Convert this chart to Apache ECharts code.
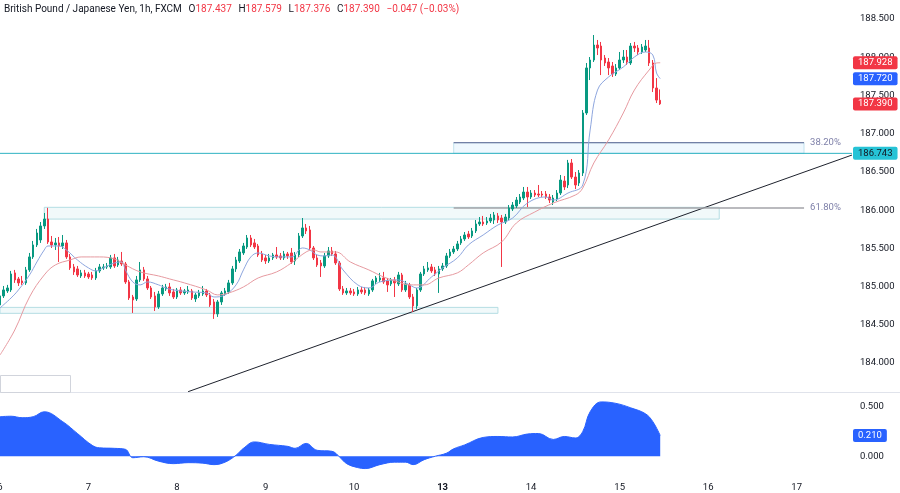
<!DOCTYPE html>
<html><head><meta charset="utf-8">
<script src="https://cdn.jsdelivr.net/npm/echarts@6/dist/echarts.min.js"></script>
<style>html,body{margin:0;padding:0;background:#fff}#c{width:900px;height:493px}</style>
</head><body><div id="c"></div>
<script>
// ---------- DATA ----------
const dayLabels = ['6','7','8','9','10','13','14','15','16','17'];
const slotCount = 232;
const opens = [184.760,184.878,184.943,184.956,185.179,185.100,185.074,185.048,185.218,185.388,185.545,185.610,185.793,185.884,185.584,185.545,185.571,185.531,185.571,185.388,185.257,185.231,185.139,185.179,
185.165,185.152,185.113,185.205,185.244,185.257,185.257,185.375,185.283,185.335,185.296,185.061,184.864,184.838,185.087,185.218,185.100,184.982,184.878,184.734,184.904,184.969,184.995,184.930,
184.864,184.956,184.917,184.930,184.943,184.838,184.878,184.904,184.943,184.891,184.799,184.642,184.799,184.904,184.930,185.048,185.231,185.335,185.440,185.518,185.636,185.571,185.531,185.427,
185.375,185.335,185.375,185.414,185.401,185.375,185.427,185.440,185.335,185.414,185.662,185.767,185.741,185.505,185.375,185.309,185.270,185.401,185.466,185.427,185.309,184.969,184.917,184.943,
184.930,184.904,184.956,184.956,184.904,184.956,185.061,185.087,185.113,185.074,185.035,185.087,185.035,185.152,184.956,185.022,184.864,184.747,184.956,185.165,185.218,185.257,185.218,185.165,
185.231,185.270,185.401,185.453,185.492,185.571,185.623,185.688,185.662,185.728,185.819,185.845,185.832,185.858,185.871,185.924,185.897,185.845,185.897,186.015,186.054,186.106,186.159,186.237,
186.172,186.224,186.211,186.211,186.211,186.172,186.106,186.146,186.224,186.381,186.329,186.617,186.433,186.355,186.486,187.271,187.860,187.964,188.160,188.147,187.990,187.938,187.886,187.781,
187.860,187.964,188.003,187.925,188.147,188.121,188.069,188.095,188.121,187.925,187.598,187.437];
const closes = [184.878,184.956,184.982,185.165,185.087,185.048,185.048,185.218,185.388,185.545,185.701,185.793,185.884,185.584,185.545,185.571,185.531,185.571,185.388,185.244,185.192,185.152,185.179,185.139,
185.126,185.113,185.205,185.257,185.257,185.270,185.375,185.270,185.348,185.296,185.061,184.851,184.825,185.087,185.218,185.100,184.982,184.864,184.734,184.904,184.982,184.995,184.917,184.864,
184.956,184.917,184.943,184.956,184.851,184.891,184.917,184.943,184.891,184.760,184.642,184.799,184.917,184.943,185.048,185.231,185.348,185.453,185.531,185.636,185.545,185.518,185.414,185.348,
185.335,185.375,185.414,185.388,185.375,185.427,185.401,185.322,185.414,185.662,185.767,185.728,185.505,185.375,185.283,185.270,185.401,185.466,185.427,185.309,184.969,184.917,184.943,184.917,
184.904,184.956,184.930,184.917,184.956,185.074,185.113,185.113,185.061,185.022,185.087,185.048,185.152,184.956,185.035,184.864,184.747,184.956,185.165,185.231,185.244,185.205,185.165,185.231,
185.270,185.401,185.453,185.492,185.558,185.623,185.675,185.649,185.728,185.819,185.845,185.819,185.858,185.897,185.937,185.871,185.845,185.910,186.028,186.067,186.132,186.172,186.237,186.172,
186.224,186.198,186.198,186.198,186.172,186.132,186.159,186.224,186.394,186.303,186.617,186.433,186.329,186.486,187.271,187.860,187.964,188.160,188.121,187.964,187.925,187.860,187.781,187.860,
187.964,188.003,187.938,188.147,188.121,188.069,188.134,188.147,187.925,187.598,187.440,187.390];
const lows = [184.721,184.851,184.917,184.930,185.048,185.008,185.022,185.022,185.192,185.362,185.518,185.571,185.754,185.558,185.505,185.479,185.322,185.492,185.362,185.218,185.152,185.126,185.113,185.113,
185.100,185.087,185.087,185.179,185.218,185.231,185.231,185.244,185.257,185.270,185.035,184.825,184.655,184.812,185.061,185.074,184.956,184.838,184.681,184.708,184.878,184.943,184.878,184.838,
184.838,184.891,184.891,184.904,184.825,184.799,184.851,184.878,184.864,184.734,184.577,184.603,184.760,184.878,184.904,185.022,185.192,185.309,185.414,185.492,185.518,185.492,185.388,185.322,
185.296,185.309,185.348,185.362,185.348,185.348,185.362,185.296,185.283,185.388,185.636,185.688,185.479,185.348,185.257,185.126,185.244,185.375,185.401,185.283,184.943,184.891,184.891,184.891,
184.878,184.878,184.904,184.891,184.878,184.930,185.035,185.061,185.035,184.930,185.008,184.864,185.008,184.930,184.930,184.838,184.668,184.708,184.930,185.139,185.192,185.179,185.139,184.917,
185.205,185.244,185.375,185.427,185.466,185.545,185.597,185.623,185.636,185.701,185.793,185.793,185.806,185.832,185.819,185.832,185.257,185.819,185.871,185.989,186.028,186.080,186.132,186.041,
186.146,186.172,186.172,186.172,186.146,186.093,186.067,186.119,186.198,186.263,186.289,186.407,186.276,186.316,186.447,187.245,187.702,187.938,188.029,187.767,187.886,187.767,187.742,187.755,
187.833,187.925,187.899,187.899,188.069,188.029,188.043,188.069,187.886,187.545,187.401,187.376];
const highs = [184.917,185.008,185.022,185.205,185.218,185.126,185.139,185.257,185.440,185.597,185.754,185.845,185.963,186.030,185.662,185.636,185.649,185.675,185.610,185.427,185.296,185.270,185.218,185.218,
185.192,185.192,185.244,185.296,185.296,185.309,185.414,185.427,185.388,185.453,185.322,185.087,184.891,185.139,185.322,185.257,185.139,185.008,184.930,184.943,185.022,185.035,185.048,184.969,
184.982,184.995,184.969,185.008,184.969,184.917,184.956,185.008,184.969,184.917,184.838,184.825,184.943,184.982,185.087,185.270,185.388,185.492,185.571,185.675,185.675,185.623,185.558,185.466,
185.414,185.427,185.440,185.518,185.440,185.466,185.453,185.505,185.453,185.701,185.897,185.819,185.793,185.531,185.414,185.348,185.440,185.518,185.518,185.466,185.335,185.008,184.982,184.982,
184.969,184.995,184.995,184.995,184.982,185.100,185.139,185.179,185.192,185.113,185.113,185.126,185.192,185.179,185.074,185.048,184.904,184.982,185.192,185.270,185.322,185.296,185.257,185.270,
185.309,185.440,185.492,185.531,185.597,185.662,185.714,185.728,185.767,185.871,185.910,185.924,185.910,185.950,185.976,185.963,185.937,185.950,186.067,186.106,186.172,186.211,186.303,186.303,
186.263,186.263,186.329,186.250,186.250,186.211,186.198,186.263,186.460,186.447,186.657,186.669,186.499,186.525,187.310,187.925,188.003,188.291,188.226,188.200,188.029,187.990,187.938,187.911,
188.069,188.095,188.095,188.186,188.200,188.160,188.173,188.226,188.226,187.964,187.728,187.579];
// moving averages: [bar index, price]
const fastMA = [[0,184.721],[3,184.851],[5,184.956],[8,185.152],[10,185.322],[12,185.479],[13,185.531],[16,185.531],[18,185.479],[21,185.348],[24,185.244],[26,185.205],[28,185.244],[31,185.309],[33,185.322],[34,185.218],[36,185.061],[38,185.022],[40,185.061],[43,185.022],[45,184.982],[47,184.956],[52,184.930],[56,184.917],[58,184.864],[61,184.891],[64,185.022],[66,185.218],[68,185.388],[70,185.440],[73,185.401],[76,185.388],[79,185.388],[82,185.505],[84,185.479],[86,185.414],[88,185.401],[90,185.414],[93,185.218],[97,185.022],[100,184.982],[103,185.061],[108,185.087],[111,185.022],[113,184.982],[117,185.126],[120,185.244],[124,185.375],[127,185.545],[131,185.675],[135,185.806],[139,185.897],[143,186.093],[148,186.172],[150,186.132],[154,186.224],[158,186.329],[160,187.048],[162,187.571],[165,187.742],[169,187.873],[172,188.003],[175,188.069],[177,188.029],[178,187.794],[179,187.720]];
const slowMA = [[0,184.105],[4,184.432],[8,184.864],[12,185.152],[15,185.283],[19,185.348],[22,185.388],[27,185.388],[31,185.362],[34,185.283],[38,185.192],[43,185.139],[46,185.100],[50,185.048],[56,184.956],[59,184.891],[62,184.917],[66,184.995],[70,185.113],[75,185.192],[79,185.309],[83,185.453],[85,185.479],[87,185.453],[91,185.453],[95,185.322],[100,185.218],[104,185.126],[108,185.061],[111,185.022],[115,185.022],[119,185.113],[124,185.179],[127,185.283],[131,185.440],[136,185.584],[140,185.832],[145,185.976],[150,186.093],[156,186.198],[158,186.289],[161,186.617],[165,186.918],[169,187.271],[172,187.571],[176,187.833],[178,187.925],[179,187.928]];
const oscValues = [[0,0.40],[3,0.405],[6,0.39],[9,0.40],[12,0.45],[17,0.35],[21,0.23],[25,0.11],[27,0.085],[31,0.08],[34,0.07],[36,-0.015],[39,-0.005],[43,-0.05],[47,-0.075],[51,-0.065],[55,-0.07],[58,-0.085],[61,-0.06],[64,0.01],[66,0.08],[69,0.145],[73,0.12],[78,0.10],[80,0.08],[83,0.13],[86,0.06],[90,0.05],[92,-0.005],[94,-0.075],[97,-0.115],[99,-0.125],[103,-0.085],[107,-0.06],[110,-0.06],[112,-0.085],[115,-0.035],[118,0.0],[121,0.03],[123,0.075],[126,0.115],[131,0.19],[135,0.20],[139,0.195],[143,0.225],[146,0.23],[150,0.17],[153,0.20],[156,0.185],[158,0.25],[160,0.45],[163,0.55],[167,0.535],[171,0.49],[175,0.43],[177,0.35],[179,0.21]];
// drawings
const hLevel = 186.743;
const trendLine = [[51,183.625],[231,186.721]];
const fibLevels = [{pct:'38.20%', price:186.882}, {pct:'61.80%', price:186.027}];
const fibSpan = [123, 218];
const zoneTop = [12, 195, 186.037, 185.883];
const zoneBottom = [0, 135, 184.728, 184.650];
const headerText = {name:'British Pound / Japanese Yen, 1h, FXCM', o:'187.437', h:'187.579', l:'187.376', c:'187.390', chg:'\u22120.047 (\u22120.03%)'};

// ---------- BUILD ----------
const categories = [];
for (const d of dayLabels) for (let h = 0; h < 24; h++) if (categories.length < slotCount) categories.push(d + '|' + h);
const candles = opens.map((o, i) => [o, closes[i], lows[i], highs[i]]);
const FONT = 'Roboto, "Noto Sans", sans-serif';
const ink = '#131722';
const halfStep = v => Math.abs(v * 2 - Math.round(v * 2)) < 1e-6;
const lastSlot = categories.length - 1;

const drawLine = (pts, color, width, labelText) => ({
  type: 'line', xAxisIndex: 0, yAxisIndex: 0, data: pts, showSymbol: false, silent: true, z: 2,
  lineStyle: {color: color, width: width, type: 'solid'},
  endLabel: labelText ? {show: true, formatter: labelText, color: '#7d7fa8', fontSize: 9.5, fontFamily: FONT, distance: 6} : {show: false}
});

const chart = echarts.init(document.getElementById('c'), null, {renderer: 'canvas'});
const option = {
  animation: false,
  backgroundColor: '#ffffff',
  textStyle: {fontFamily: FONT},
  grid: [
    {left: 0, right: 48, top: 0, height: 392, containLabel: false, outerBoundsMode: 'none'},
    {left: 0, right: 48, top: 393, height: 83, containLabel: false, outerBoundsMode: 'none'}
  ],
  xAxis: [
    {type: 'category', gridIndex: 0, data: categories, boundaryGap: false,
     axisLine: {show: false}, axisTick: {show: false}, axisLabel: {show: false}, splitLine: {show: false}},
    {type: 'category', gridIndex: 1, data: categories, boundaryGap: false,
     axisLine: {show: false}, axisTick: {show: false}, splitLine: {show: false},
     axisLabel: {
       interval: (i, v) => v.split('|')[1] === '0',
       formatter: v => { const d = v.split('|')[0]; return d === '13' ? '{b|13}' : d; },
       color: ink, fontSize: 9.5, fontFamily: FONT, margin: 7,
       rich: {b: {fontWeight: 'bold', color: ink, fontSize: 9.5, fontFamily: FONT}}
     }}
  ],
  yAxis: [
    {type: 'value', gridIndex: 0, position: 'right', min: 183.621, max: 188.749, splitNumber: 10, scale: true,
     axisLine: {show: false}, axisTick: {show: false}, splitLine: {show: false},
     axisLabel: {formatter: v => halfStep(v) ? v.toFixed(3) : '', color: ink, fontSize: 9.5, fontFamily: FONT, margin: 8}},
    {type: 'value', gridIndex: 1, position: 'right', min: -0.2, max: 0.64, splitNumber: 2,
     axisLine: {show: false}, axisTick: {show: false}, splitLine: {show: false},
     axisLabel: {formatter: v => halfStep(v) ? v.toFixed(3) : '', color: ink, fontSize: 9.5, fontFamily: FONT, margin: 8}}
  ],
  series: [
    {
      type: 'candlestick', xAxisIndex: 0, yAxisIndex: 0, data: candles, barWidth: 2, z: 3,
      itemStyle: {color: '#089981', color0: '#f23645', borderColor: '#089981', borderColor0: '#f23645', borderWidth: 1},
      markArea: {
        silent: true,
        data: [
          [{coord: [zoneTop[0], zoneTop[2]], itemStyle: {color: 'rgba(178,223,230,0.18)', borderColor: '#b4dde3', borderWidth: 1}},
           {coord: [zoneTop[1], zoneTop[3]]}],
          [{coord: [zoneBottom[0], zoneBottom[2]], itemStyle: {color: 'rgba(178,223,230,0.18)', borderColor: '#b4dde3', borderWidth: 1}},
           {coord: [zoneBottom[1], zoneBottom[3]]}],
          [{coord: [fibSpan[0], fibLevels[0].price], itemStyle: {color: 'rgba(33,150,243,0.07)', borderColor: 'rgba(100,180,210,0.35)', borderWidth: 1}},
           {coord: [fibSpan[1], hLevel]}]
        ]
      }
    },
    drawLine([[0, hLevel], [lastSlot, hLevel]], '#2fb3c2', 1, null),
    drawLine(trendLine, '#1e222d', 1, null),
    drawLine([[fibSpan[0], fibLevels[0].price], [fibSpan[1], fibLevels[0].price]], '#58638f', 1, fibLevels[0].pct),
    drawLine([[fibSpan[0], fibLevels[1].price], [fibSpan[1], fibLevels[1].price]], '#a3a3a8', 1.5, fibLevels[1].pct),
    {type: 'line', xAxisIndex: 0, yAxisIndex: 0, data: fastMA, showSymbol: false, smooth: 0.4,
     lineStyle: {color: '#8ea6de', width: 1}, z: 4},
    {type: 'line', xAxisIndex: 0, yAxisIndex: 0, data: slowMA, showSymbol: false, smooth: 0.4,
     lineStyle: {color: '#e69aa0', width: 1}, z: 4},
    {type: 'line', xAxisIndex: 1, yAxisIndex: 1, data: oscValues, showSymbol: false, smooth: 0.4,
     lineStyle: {color: '#2962ff', width: 1}, areaStyle: {color: '#2962ff', opacity: 1}}
  ]
};
chart.setOption(option);

// price tags on the right axis, positioned through the axes
const tag = (v, axis, bg, fg) => ({
  type: 'text', z: 100, x: 853, y: chart.convertToPixel({yAxisIndex: axis}, v),
  style: {text: v.toFixed(3), fill: fg, backgroundColor: bg, padding: [2, 5, 1, 5], borderRadius: 2,
          font: '9.5px ' + FONT, verticalAlign: 'middle', align: 'left'}
});
const lastSlow = slowMA[slowMA.length - 1][1];
const lastFast = fastMA[fastMA.length - 1][1];
const lastClose = closes[closes.length - 1];
const lastOsc = oscValues[oscValues.length - 1][1];
chart.setOption({
  graphic: [
    {type: 'line', z: 50, shape: {x1: 0, y1: 392.5, x2: 900, y2: 392.5}, style: {stroke: '#e0e3eb', lineWidth: 1}},
    {type: 'rect', z: 50, shape: {x: 0.5, y: 375.5, width: 70, height: 17}, style: {fill: '#ffffff', stroke: '#d1d4dc', lineWidth: 1}},
    {type: 'text', z: 60, x: 4, y: 9, style: {
      text: '{t|' + headerText.name + '}  {k|O}{v|' + headerText.o + '}  {k|H}{v|' + headerText.h + '}  {k|L}{v|' + headerText.l + '}  {k|C}{v|' + headerText.c + '}  {v|' + headerText.chg + '}',
      verticalAlign: 'middle',
      rich: {
        t: {fill: ink, font: '10px ' + FONT},
        k: {fill: ink, font: '10px ' + FONT},
        v: {fill: '#f23645', font: '10px ' + FONT}
      }}},
    tag(lastSlow, 0, '#f23645', '#ffffff'),
    tag(lastFast, 0, '#2962ff', '#ffffff'),
    tag(lastClose, 0, '#f23645', '#ffffff'),
    tag(hLevel, 0, '#26c3d6', ink),
    tag(lastOsc, 1, '#2962ff', '#ffffff')
  ]
});
</script>
</body></html>
